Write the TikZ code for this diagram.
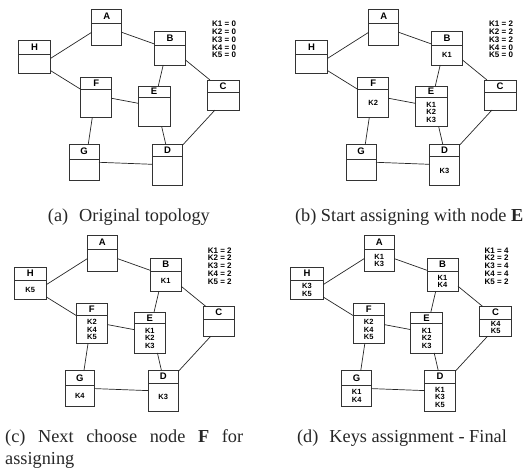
\documentclass[tikz,border=0pt]{standalone}
\usepackage{fontspec}
\setmainfont{Liberation Serif}
\newfontfamily\hvfont{Liberation Sans}
\usetikzlibrary{calc}
\tikzset{
 boxst/.style={draw=black!80, line width=0.8pt, inner sep=0pt, outer sep=0pt, anchor=north west},
 sepline/.style={draw=black!80, line width=0.8pt},
 hdrst/.style={font=\hvfont\bfseries\fontsize{9.5}{9.5}\selectfont, inner sep=0pt},
 keyst/.style={font=\hvfont\bfseries\fontsize{7.5}{7.5}\selectfont, inner sep=0pt, align=center},
 tblst/.style={font=\hvfont\bfseries\fontsize{8}{7.8}\selectfont, inner sep=0pt, align=left, anchor=north west},
 link/.style={draw=black!85, line width=0.7pt},
 capst/.style={font=\fontsize{18.3}{22}\selectfont, text=black!85, inner sep=0pt, anchor=base},
}
% #1 prefix #2 name #3 x #4 y #5 w #6 h #7 header height #8 label #9 content
\newcommand\tbox[9]{%
  \node[boxst, minimum width=#5pt, minimum height=#6pt] (#1#2) at (#3,#4) {};
  \draw[sepline] ($(#1#2.north west)+(0,#7)$) -- ($(#1#2.north east)+(0,#7)$);
  \node[hdrst] (#1#2h) at ($(#1#2.north)+(0,#7/2)$) {#8};
  \node[keyst] (#1#2k) at ($(#1#2.south)+(0,-#6/2+#7/2)$) {#9};
}
\newcommand\drawpanel[1]{%
  \tbox{#1}{A}{91.7}{9.3}{30}{35.7}{14}{A}{\cA}
  \tbox{#1}{H}{18.3}{40.7}{32.4}{32.6}{13.3}{H}{\cH}
  \tbox{#1}{B}{154.5}{31.7}{31}{33.3}{13.3}{B}{\cB}
  \tbox{#1}{F}{80.7}{77.3}{31}{40}{12}{F}{\cF}
  \tbox{#1}{E}{138.3}{86}{31.7}{40.7}{11.3}{E}{\cE}
  \tbox{#1}{C}{207.3}{80}{31.7}{30}{12.7}{C}{\cC}
  \tbox{#1}{G}{69.3}{144}{29.7}{36}{15}{G}{\cG}
  \tbox{#1}{D}{152.3}{144}{30.4}{41}{12.7}{D}{\cD}
  \node[tblst] (#1keys) at (212,21) {\ktext};
  \draw[link] ($(#1H.north east)+(0,17.6)$) -- ($(#1A.north west)+(0,23)$);
  \draw[link] ($(#1H.north east)+(0,30)$) -- ($(#1F.north west)+(0,12)$);
  \draw[link] ($(#1A.north east)+(0,23)$) -- ($(#1B.north west)+(0,12.3)$);
  \draw[link] ($(#1B.north east)+(0,28.3)$) -- ($(#1C.north west)+(2.7,0)$);
  \draw[link] ($(#1B.south west)+(8.7,0)$) -- ($(#1E.north west)+(20,0)$);
  \draw[link] ($(#1F.north east)+(0,21)$) -- ($(#1E.north west)+(0,17.3)$);
  \draw[link] ($(#1E.south west)+(23.4,0)$) -- ($(#1D.north west)+(13.4,0)$);
  \draw[link] ($(#1C.south west)+(7.7,0)$) -- ($(#1D.north east)+(0,1)$);
  \draw[link] ($(#1F.south west)+(11.6,0)$) -- ($(#1G.north west)+(19,0)$);
  \draw[link] ($(#1G.north east)+(0,18.3)$) -- ($(#1D.north west)+(0,20.3)$);
}
\begin{document}
\begin{tikzpicture}[x=1pt,y=-1pt]
\useasboundingbox (0,0) rectangle (525,472);
% (a)
\def\cA{}\def\cH{}\def\cB{}\def\cF{}\def\cE{}\def\cC{}\def\cG{}\def\cD{}
\def\ktext{K1 = 0\\K2 = 0\\K3 = 0\\K4 = 0\\K5 = 0}
\begin{scope}[shift={(0,0)}]\drawpanel{a}\end{scope}
% (b)
\def\cB{K1}\def\cF{K2}\def\cE{K1\\K2\\K3}\def\cD{K3}
\def\ktext{K1 = 2\\K2 = 2\\K3 = 2\\K4 = 0\\K5 = 0}
\begin{scope}[shift={(277,0)}]\drawpanel{b}\end{scope}
% (c)
\def\cH{K5}\def\cF{K2\\K4\\K5}\def\cG{K4}
\def\ktext{K1 = 2\\K2 = 2\\K3 = 2\\K4 = 2\\K5 = 2}
\begin{scope}[shift={(-4.3,226.3)}]\drawpanel{c}\end{scope}
% (d)
\def\cA{K1\\K3}\def\cH{K3\\K5}\def\cB{K1\\K4}\def\cC{K4\\K5}\def\cG{K1\\K4}\def\cD{K1\\K3\\K5}
\def\ktext{K1 = 4\\K2 = 2\\K3 = 4\\K4 = 4\\K5 = 2}
\begin{scope}[shift={(272.5,226.3)}]\drawpanel{d}\end{scope}
% captions
\node[capst] (capa) at (128.9,221) {(a)\hspace{0.6em}Original topology};
\node[capst, anchor=base east] (capb) at (523.5,221) {(b) Start assigning with node \textbf{E}};
\node[capst, anchor=base west] (capc1) at (5,442) {\makebox[238pt][s]{(c) Next choose node \textbf{F} for}};
\node[capst, anchor=base west] (capc2) at (5,464) {assigning};
\node[capst] (capd) at (402,442) {(d)\hspace{0.6em}Keys assignment - Final};
\end{tikzpicture}
\end{document}
